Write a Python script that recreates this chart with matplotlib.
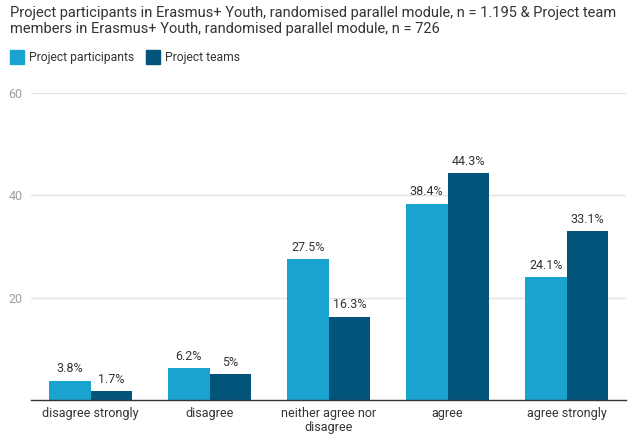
import matplotlib
matplotlib.use("Agg")
import matplotlib.pyplot as plt
import numpy as np
from matplotlib.patches import Rectangle

plt.rcParams['font.family'] = ['Roboto', 'DejaVu Sans']

categories = ["disagree strongly", "disagree", "neither agree nor\ndisagree", "agree", "agree strongly"]
participants = [3.8, 6.2, 27.5, 38.4, 24.1]
teams = [1.7, 5.0, 16.3, 44.3, 33.1]
participant_labels = ["3.8%", "6.2%", "27.5%", "38.4%", "24.1%"]
team_labels = ["1.7%", "5%", "16.3%", "44.3%", "33.1%"]
series_names = ["Project participants", "Project teams"]
yticks = [20, 40, 60]

c_light = "#1aa3cf"
c_dark = "#02547b"

fig = plt.figure(figsize=(6.41, 4.34), dpi=100)
ax = fig.add_axes([31 / 641, 1 - 400 / 434, 595 / 641, 307 / 434])

x = np.arange(len(categories))
w = 0.35
ax.bar(x - w / 2, participants, w, color=c_light, zorder=3)
ax.bar(x + w / 2, teams, w, color=c_dark, zorder=3)

for xi, v, s in zip(x, participants, participant_labels):
    ax.text(xi - w / 2, v + 1.0, s, ha="center", va="bottom", fontsize=9, color="#333333")
for xi, v, s in zip(x, teams, team_labels):
    ax.text(xi + w / 2, v + 1.0, s, ha="center", va="bottom", fontsize=9, color="#333333")

ax.set_xlim(-0.5, len(categories) - 0.5)
ax.set_ylim(0, 60)
ax.set_yticks(yticks)
ax.set_yticklabels([str(t) for t in yticks])
ax.tick_params(axis="y", length=0, colors="#9e9e9e", labelsize=9, pad=6)
ax.set_xticks(x)
ax.set_xticklabels(categories, fontsize=9, color="#333333", linespacing=1.1)
ax.tick_params(axis="x", length=0, pad=5)
ax.grid(axis="y", color="#e3e3e3", linewidth=1, zorder=0)
for sp in ["top", "right", "left"]:
    ax.spines[sp].set_visible(False)
ax.spines["bottom"].set_color("#333333")
ax.spines["bottom"].set_linewidth(1)
ax.spines["bottom"].set_zorder(4)

fig.text(10 / 641, 1 - 6 / 434,
         "Project participants in Erasmus+ Youth, randomised parallel module, n = 1.195 & Project team\n"
         "members in Erasmus+ Youth, randomised parallel module, n = 726",
         ha="left", va="top", fontsize=10.5, color="#333333", linespacing=1.2)

# legend swatches
y_leg = 1 - 57 / 434
sw = 14 / 641
sh = 14 / 434
fig.patches.append(Rectangle((10 / 641, y_leg - sh / 2), sw, sh, transform=fig.transFigure,
                             color=c_light, figure=fig))
fig.text(29 / 641, y_leg, series_names[0], ha="left", va="center", fontsize=8.7, color="#333333")
fig.patches.append(Rectangle((146 / 641, y_leg - sh / 2), sw, sh, transform=fig.transFigure,
                             color=c_dark, figure=fig))
fig.text(165 / 641, y_leg, series_names[1], ha="left", va="center", fontsize=8.7, color="#333333")

fig.savefig("out.png", dpi=100)
